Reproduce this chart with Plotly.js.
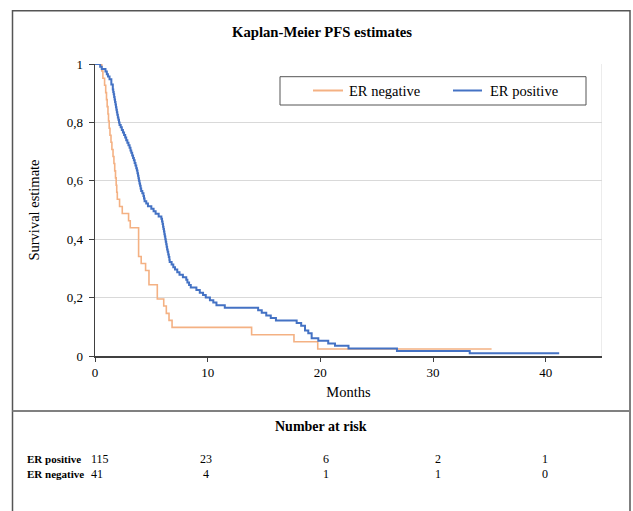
<!DOCTYPE html>
<html>
<head>
<meta charset="utf-8">
<script src="https://cdn.plot.ly/plotly-3.0.1.min.js"></script>
<style>
html,body{margin:0;padding:0;background:#ffffff;}
#chart{width:633px;height:511px;}
</style>
</head>
<body>
<div id="chart"></div>
<script>
// ---------- data ----------
const seriesNames = ['ER negative', 'ER positive'];

const negTime = [0, 0.6, 0.7, 0.85, 0.95, 1.02, 1.08, 1.15, 1.2, 1.26, 1.33, 1.42, 1.5, 1.6, 1.68, 1.75, 1.82, 1.88, 1.93, 1.98,
  2.18, 2.42, 2.98, 3.13, 3.87, 4.1, 4.49, 4.79, 5.53, 6.1, 6.33, 6.57, 6.84, 13.9, 17.66, 19.77, 35.2];
const negSurv = [1, 0.976, 0.951, 0.927, 0.902, 0.878, 0.854, 0.829, 0.805, 0.780, 0.756, 0.732, 0.707, 0.683, 0.659, 0.634, 0.610, 0.585, 0.561, 0.537,
  0.512, 0.488, 0.463, 0.439, 0.341, 0.317, 0.293, 0.244, 0.195, 0.171, 0.146, 0.122, 0.098, 0.073, 0.049, 0.024, 0.024];

const posTime = [0, 0.46, 0.6, 0.93, 1.05, 1.15, 1.29, 1.45, 1.58, 1.62, 1.66, 1.70, 1.74, 1.78, 1.82, 1.86, 1.90, 1.94, 1.98,
  2.03, 2.08, 2.13, 2.18, 2.28, 2.38, 2.48, 2.58, 2.68, 2.77, 2.87, 2.97, 3.07, 3.15, 3.22, 3.30, 3.38, 3.45, 3.52, 3.59, 3.66,
  3.72, 3.77, 3.82, 3.86, 3.90, 3.95, 4.00, 4.05, 4.10, 4.20, 4.30, 4.35, 4.40, 4.55, 4.70, 5.00, 5.20, 5.38, 5.65, 5.89,
  5.95, 6.00, 6.04, 6.08, 6.12, 6.16, 6.20, 6.24, 6.28, 6.32, 6.36, 6.40, 6.45, 6.50, 6.55, 6.60, 6.63, 6.80, 6.95, 7.10,
  7.30, 7.50, 7.80, 8.10, 8.20, 8.35, 8.50, 9.00, 9.30, 9.59, 9.83, 10.20, 10.50, 10.78, 11.52, 14.48, 14.80, 15.20, 15.60,
  16.06, 17.90, 18.30, 18.64, 18.93, 19.23, 19.82, 20.70, 21.30, 22.50, 26.80, 33.26, 41.20];
const posSurv = [1, 0.991, 0.983, 0.974, 0.965, 0.957, 0.948, 0.930, 0.913, 0.904, 0.896, 0.887, 0.878, 0.870, 0.861, 0.852, 0.843, 0.835, 0.826,
  0.817, 0.809, 0.800, 0.791, 0.783, 0.774, 0.765, 0.757, 0.748, 0.739, 0.730, 0.722, 0.713, 0.704, 0.696, 0.687, 0.678, 0.670, 0.661, 0.652, 0.643,
  0.635, 0.626, 0.617, 0.609, 0.600, 0.591, 0.583, 0.574, 0.565, 0.557, 0.548, 0.539, 0.530, 0.522, 0.513, 0.504, 0.496, 0.487, 0.478, 0.470,
  0.461, 0.452, 0.443, 0.435, 0.426, 0.417, 0.409, 0.400, 0.391, 0.383, 0.374, 0.365, 0.357, 0.348, 0.339, 0.330, 0.322, 0.313, 0.304, 0.296,
  0.287, 0.278, 0.270, 0.261, 0.252, 0.243, 0.235, 0.226, 0.217, 0.209, 0.200, 0.191, 0.183, 0.174, 0.165, 0.157, 0.148, 0.139, 0.130,
  0.122, 0.113, 0.104, 0.087, 0.078, 0.061, 0.052, 0.043, 0.035, 0.026, 0.017, 0.009, 0.009];

const xTickVals = [0, 10, 20, 30, 40];
const yTickVals = [0, 0.2, 0.4, 0.6, 0.8, 1];

const atRiskTimes = [0, 10, 20, 30, 40];
const atRiskPos = [115, 23, 6, 2, 1];
const atRiskNeg = [41, 4, 1, 1, 0];
const atRiskLabels = ['ER positive', 'ER negative'];

// ---------- styling / layout ----------
const negColor = '#F4B183';
const posColor = '#4472C4';
const serif = 'Liberation Serif, Times New Roman, serif';

// plot area in pixels: left 95, right 602, top 64, bottom 356
const PL = 95, PW = 507, PT = 64, PH = 292;
const px2x = p => (p - PL) / PW;
const py2y = p => (PT + PH - p) / PH;

const traces = [
  {x: negTime, y: negSurv, name: seriesNames[0], type: 'scatter', mode: 'lines',
   line: {color: negColor, width: 1.6, shape: 'hv'}, hoverinfo: 'skip'},
  {x: posTime, y: posSurv, name: seriesNames[1], type: 'scatter', mode: 'lines',
   line: {color: posColor, width: 2, shape: 'hv'}, hoverinfo: 'skip'}
];

const shapes = [
  // outer frame (bottom edge below the visible page)
  {type: 'rect', xref: 'paper', yref: 'paper', x0: px2x(12.5), x1: px2x(630), y0: py2y(560), y1: py2y(10.7),
   line: {color: '#555555', width: 1.5}, fillcolor: 'rgba(0,0,0,0)', layer: 'above'},
  // divider between chart and table
  {type: 'line', xref: 'paper', yref: 'paper', x0: px2x(12.5), x1: px2x(630), y0: py2y(411), y1: py2y(411),
   line: {color: '#808080', width: 2}},
  // light right border of plot area
  {type: 'line', xref: 'x', yref: 'y', x0: 45, x1: 45, y0: 0, y1: 1,
   line: {color: '#d9d9d9', width: 1}},
  // legend box
  {type: 'rect', xref: 'paper', yref: 'paper', x0: px2x(280), x1: px2x(586), y0: py2y(105), y1: py2y(76.7),
   line: {color: '#555555', width: 1}, fillcolor: '#ffffff'},
  {type: 'line', xref: 'paper', yref: 'paper', x0: px2x(313), x1: px2x(343), y0: py2y(90.5), y1: py2y(90.5),
   line: {color: negColor, width: 2}},
  {type: 'line', xref: 'paper', yref: 'paper', x0: px2x(453), x1: px2x(482), y0: py2y(90.5), y1: py2y(90.5),
   line: {color: posColor, width: 2}}
];

const annotations = [
  {xref: 'paper', yref: 'paper', x: px2x(347), y: py2y(90.5), text: seriesNames[0], showarrow: false,
   xanchor: 'left', yanchor: 'middle', font: {family: serif, size: 14.5, color: '#000'}},
  {xref: 'paper', yref: 'paper', x: px2x(488), y: py2y(90.5), text: seriesNames[1], showarrow: false,
   xanchor: 'left', yanchor: 'middle', font: {family: serif, size: 14.5, color: '#000'}},
  {xref: 'paper', yref: 'paper', x: px2x(321), y: py2y(426), text: '<b>Number at risk</b>', showarrow: false,
   xanchor: 'center', yanchor: 'middle', font: {family: serif, size: 14, color: '#000'}}
];

const rowY = [459, 474];
const colShift = [-6, -2, 6, 5, -1];
[atRiskPos, atRiskNeg].forEach((row, r) => {
  annotations.push({xref: 'paper', yref: 'paper', x: px2x(25), y: py2y(rowY[r]), text: '<b>' + atRiskLabels[r] + '</b>',
    showarrow: false, xanchor: 'left', yanchor: 'middle', font: {family: serif, size: 11, color: '#000'}});
  row.forEach((v, i) => {
    annotations.push({xref: 'x', yref: 'paper', x: atRiskTimes[i], y: py2y(rowY[r]), text: String(v),
      showarrow: false, xanchor: i === 0 ? 'left' : 'center', xshift: colShift[i], yanchor: 'middle',
      font: {family: serif, size: 12, color: '#000'}});
  });
});

const layout = {
  width: 633, height: 511,
  margin: {l: PL, r: 633 - PL - PW, t: PT, b: 511 - PT - PH, pad: 0},
  paper_bgcolor: '#ffffff', plot_bgcolor: '#ffffff',
  separators: ', ',
  showlegend: false,
  font: {family: serif, size: 13, color: '#000'},
  title: {text: '<b>Kaplan-Meier PFS estimates</b>', xref: 'container', yref: 'container',
          x: 322 / 633, y: 1 - 32 / 511, xanchor: 'center', yanchor: 'middle',
          font: {family: serif, size: 14.7, color: '#000'}},
  xaxis: {range: [0, 45], tickvals: xTickVals, ticks: 'outside', ticklen: 4, tickwidth: 1, tickcolor: '#404040',
          showline: true, linecolor: '#404040', linewidth: 1.5, showgrid: false, zeroline: false,
          tickfont: {family: serif, size: 13}, fixedrange: true,
          title: {text: 'Months', font: {family: serif, size: 14.5}, standoff: 8}},
  yaxis: {range: [0, 1], tickvals: yTickVals, ticks: 'outside', ticklen: 5, tickwidth: 1, tickcolor: '#404040',
          showline: true, linecolor: '#404040', linewidth: 1.5, showgrid: true, gridcolor: '#d9d9d9', gridwidth: 1,
          zeroline: false, tickfont: {family: serif, size: 13}, ticklabelstandoff: 3, fixedrange: true,
          title: {text: 'Survival estimate', font: {family: serif, size: 14.5}, standoff: 23}},
  xaxis2: {overlaying: 'x', anchor: 'y', range: [0, 45], tickvals: xTickVals, ticks: 'inside', ticklen: 3,
           tickcolor: '#404040', showticklabels: false, showline: false, showgrid: false, zeroline: false},
  yaxis2: {overlaying: 'y', anchor: 'x', range: [0, 1], tickvals: yTickVals, ticks: 'inside', ticklen: 3,
           tickcolor: '#404040', showticklabels: false, showline: false, showgrid: false, zeroline: false},
  shapes: shapes,
  annotations: annotations
};

Plotly.newPlot('chart', traces, layout, {staticPlot: true, displayModeBar: false});
</script>
</body>
</html>
